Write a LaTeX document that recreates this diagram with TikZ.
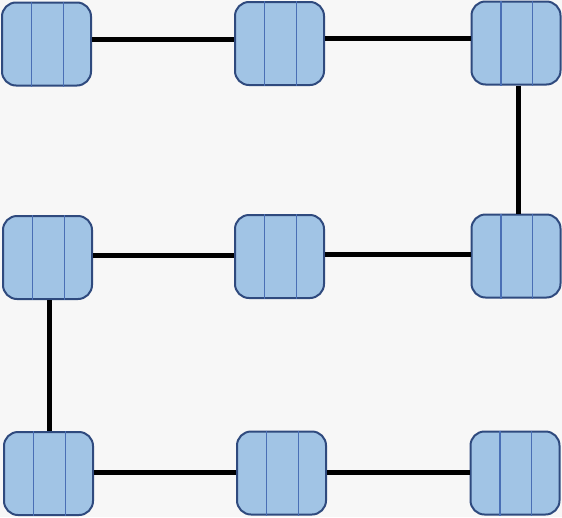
\documentclass[tikz,border=0pt]{standalone}
\usetikzlibrary{calc}
\definecolor{bg}{HTML}{F7F7F7}
\definecolor{boxfill}{HTML}{A1C4E5}
\definecolor{boxedge}{HTML}{2F4A7E}
\definecolor{divline}{HTML}{4A6FB5}
\tikzset{
  cell/.style={draw=boxedge, fill=boxfill, line width=2pt, rounded corners=14pt,
    minimum width=89pt, minimum height=83pt, inner sep=0pt},
  link/.style={line width=5pt, black},
  div/.style={draw=divline, line width=1.1pt}
}
\newcommand{\cellnode}[2]{%
  \node[cell] (#1) at (#2) {};
  \draw[div] ($(#1.north west)!0.335!(#1.north east)$) -- ($(#1.south west)!0.335!(#1.south east)$);
  \draw[div] ($(#1.north west)!0.685!(#1.north east)$) -- ($(#1.south west)!0.685!(#1.south east)$);
}
\begin{document}
\begin{tikzpicture}[x=1pt,y=-1pt]
\fill[bg] (0,0) rectangle (562,517);
\useasboundingbox (0,0) rectangle (562,517);
\cellnode{n1}{46.5,44}
\cellnode{n2}{279.5,43.5}
\cellnode{n3}{516,43}
\cellnode{n4}{47.5,257.5}
\cellnode{n5}{279.5,256.5}
\cellnode{n6}{516,256}
\cellnode{n7}{48.5,473.5}
\cellnode{n8}{281.5,473}
\cellnode{n9}{515,473}
\draw[link] ([yshift=5pt]n1.east) -- ([yshift=5pt]n1.east -| n2.west);
\draw[link] ([yshift=5pt]n2.east) -- ([yshift=5pt]n2.east -| n3.west);
\draw[link] ([xshift=2pt]n3.south) -- ([xshift=2pt]n3.south |- n6.north);
\draw[link] ([yshift=2pt]n4.east) -- ([yshift=2pt]n4.east -| n5.west);
\draw[link] ([yshift=2pt]n5.east) -- ([yshift=2pt]n5.east -| n6.west);
\draw[link] ([xshift=2pt]n4.south) -- ([xshift=2pt]n4.south |- n7.north);
\draw[link] ([yshift=1pt]n7.east) -- ([yshift=1pt]n7.east -| n8.west);
\draw[link] ([yshift=1pt]n8.east) -- ([yshift=1pt]n8.east -| n9.west);
\end{tikzpicture}
\end{document}
